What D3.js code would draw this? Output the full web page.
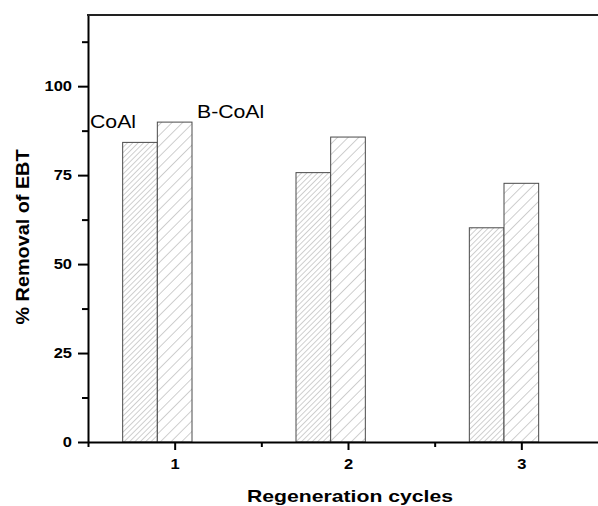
<!DOCTYPE html>
<html>
<head>
<meta charset="utf-8">
<script src="https://cdn.jsdelivr.net/npm/d3@7"></script>
<style>
  body { margin: 0; background: #fff; }
  svg { display: block; font-family: "Liberation Sans", Arial, sans-serif; }
</style>
</head>
<body>
<div id="chart"></div>
<script>
// data
var cycles = [1, 2, 3];
var series = ["CoAl", "B-CoAl"];
var coalValues = [84.2, 75.7, 60.2];
var bcoalValues = [89.9, 85.7, 72.7];
var yTicks = [0, 25, 50, 75, 100];

var W = 598, H = 506;
var margin = { top: 15, right: -10, bottom: 64, left: 88 };
var width = W - margin.left - margin.right,
    height = H - margin.top - margin.bottom;

// text in the picture is a bit wider than the font, stretch it
var stretch = 1.18;

var svg = d3.select("#chart").append("svg")
  .attr("width", W)
  .attr("height", H);

// hatch patterns
var defs = svg.append("defs");
function hatch(id, gap) {
  var p = defs.append("pattern")
    .attr("id", id)
    .attr("patternUnits", "userSpaceOnUse")
    .attr("width", gap)
    .attr("height", gap)
    .attr("patternTransform", "rotate(45)");
  p.append("rect").attr("width", gap).attr("height", gap).attr("fill", "#fff");
  p.append("line")
    .attr("x1", 0).attr("y1", 0)
    .attr("x2", 0).attr("y2", gap)
    .attr("stroke", "#a8a8a8")
    .attr("stroke-width", 1.1);
}
hatch("hatchDense", 3.8);
hatch("hatchSparse", 7.5);

var g = svg.append("g")
  .attr("transform", "translate(" + margin.left + "," + margin.top + ")");

var x = d3.scaleLinear().domain([0.5, 3.5]).range([0, width]);
var y = d3.scaleLinear().domain([0, 120]).range([height, 0]);

var barW = x(1.2) - x(1);

// bars
var rows = cycles.map(function (c, i) {
  return [
    { cycle: c, key: series[0], value: coalValues[i], off: -1 },
    { cycle: c, key: series[1], value: bcoalValues[i], off: 0 }
  ];
}).flat();

g.selectAll(".bar")
  .data(rows)
  .enter().append("rect")
  .attr("class", "bar")
  .attr("x", function (d) { return x(d.cycle) + (d.off - 0.5) * barW; })
  .attr("width", barW)
  .attr("y", function (d) { return y(d.value); })
  .attr("height", function (d) { return height - y(d.value); })
  .attr("fill", function (d) { return d.off < 0 ? "url(#hatchDense)" : "url(#hatchSparse)"; })
  .attr("stroke", "#4a4a4a")
  .attr("stroke-width", 1);

// y axis major + minor
var yMinor = d3.range(12.5, 120, 25);
g.append("g")
  .call(d3.axisLeft(y).tickValues(yMinor).tickSize(6).tickFormat(""))
  .call(function (s) { s.select(".domain").remove(); })
  .selectAll("line").attr("stroke-width", 2);
var yAxis = g.append("g")
  .call(d3.axisLeft(y).tickValues(yTicks).tickSize(10).tickPadding(6).tickSizeOuter(0));
yAxis.select(".domain").attr("stroke-width", 2);
yAxis.selectAll("line").attr("stroke-width", 2);
yAxis.selectAll("text")
  .attr("x", -16 / stretch)
  .attr("transform", "scale(" + stretch + ",1)")
  .style("font-size", "14px").style("font-weight", "bold")
  .style("font-family", "Liberation Sans, Arial, sans-serif");

// x axis major + minor
var xMinor = [0.5, 1.5, 2.5];
g.append("g")
  .attr("transform", "translate(0," + height + ")")
  .call(d3.axisBottom(x).tickValues(xMinor).tickSize(5).tickFormat(""))
  .call(function (s) { s.select(".domain").remove(); })
  .selectAll("line").attr("stroke-width", 2);
var xAxis = g.append("g")
  .attr("transform", "translate(0," + height + ")")
  .call(d3.axisBottom(x).tickValues(cycles).tickSize(8).tickPadding(9).tickSizeOuter(0).tickFormat(d3.format("d")));
xAxis.select(".domain").attr("stroke-width", 2);
xAxis.selectAll("line").attr("stroke-width", 2);
xAxis.selectAll("text")
  .attr("transform", "scale(" + stretch + ",1)")
  .style("font-size", "14px").style("font-weight", "bold")
  .style("font-family", "Liberation Sans, Arial, sans-serif");

// top frame line
g.append("line")
  .attr("x1", -1).attr("x2", width)
  .attr("y1", 0).attr("y2", 0)
  .attr("stroke", "#222")
  .attr("stroke-width", 2);

// series labels
function label(txt, lx, ly, size, bold, anchor) {
  return svg.append("text")
    .attr("transform", "translate(" + lx + "," + ly + ") scale(" + stretch + ",1)")
    .attr("text-anchor", anchor || "start")
    .style("font-size", size + "px")
    .style("font-weight", bold ? "bold" : "normal")
    .text(txt);
}
label(series[0], 90, 128, 18);
label(series[1], 197, 118, 18);

// axis titles
svg.append("text")
  .attr("transform", "translate(29,237) rotate(-90)")
  .attr("text-anchor", "middle")
  .attr("textLength", 175)
  .attr("lengthAdjust", "spacingAndGlyphs")
  .style("font-size", "18px")
  .style("font-weight", "bold")
  .text("% Removal of EBT");
svg.append("text")
  .attr("x", 350)
  .attr("y", 502)
  .attr("text-anchor", "middle")
  .attr("textLength", 206)
  .attr("lengthAdjust", "spacingAndGlyphs")
  .style("font-size", "17px")
  .style("font-weight", "bold")
  .text("Regeneration cycles");
</script>
</body>
</html>
